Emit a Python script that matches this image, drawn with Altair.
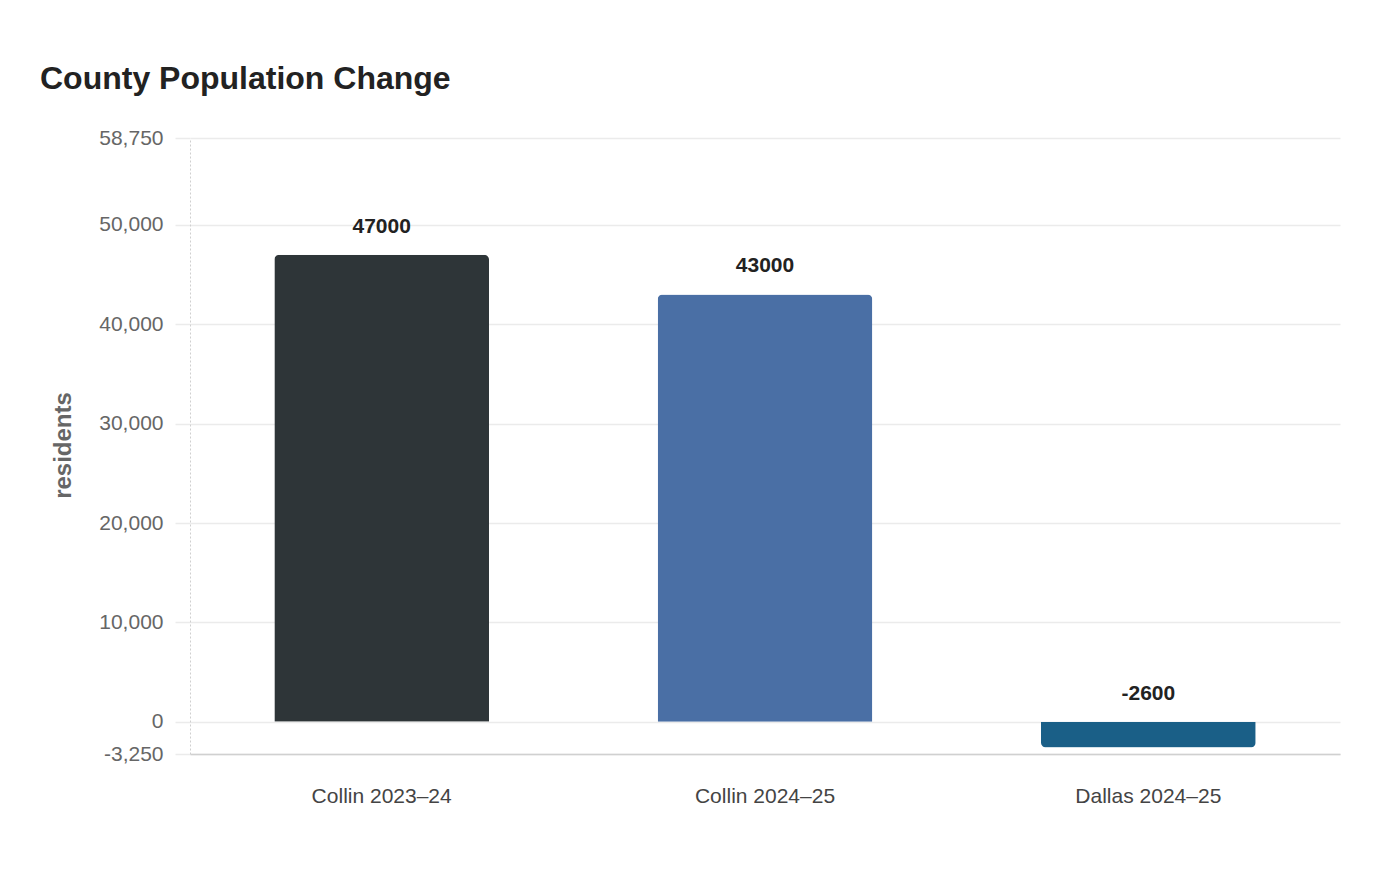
import pandas as pd
import altair as alt

# Population change per county/period
periods = ["Collin 2023–24", "Collin 2024–25", "Dallas 2024–25"]
change = [47000, 43000, -2600]
bar_colors = ["#2e3538", "#4a6fa5", "#1a5f87"]
y_ticks = [-3250, 0, 10000, 20000, 30000, 40000, 50000, 58750]

df = pd.DataFrame({"period": periods, "change": change})

base = alt.Chart(df).encode(
    x=alt.X("period:N", sort=periods,
            scale=alt.Scale(paddingInner=0.44, paddingOuter=0.22),
            axis=alt.Axis(title=None, labelAngle=0, labelFontSize=21, labelColor="#444",
                          labelPadding=31, ticks=False, domainColor="#d0d0d0",
                          domainWidth=1.5, grid=False))
)

y_enc = alt.Y("change:Q",
              scale=alt.Scale(domain=[-3250, 58750], nice=False, zero=False),
              axis=alt.Axis(values=y_ticks, format=",d", title="residents",
                            labelExpr="replace(datum.label, '\u2212', '-')",
                            titleFontSize=24, titleColor="#666", titleFontWeight="bold",
                            titleX=-127, titleY=307, titleAngle=-90,
                            titleAlign="center", titleBaseline="middle",
                            labelFontSize=21, labelColor="#666", labelPadding=12,
                            tickSize=15, tickColor="#ebebeb", tickWidth=1.5,
                            gridColor="#ebebeb", gridWidth=1.5,
                            domainColor="#cfcfcf", domainDash=[2, 2], domainWidth=1))
color_enc = alt.Color("period:N", scale=alt.Scale(domain=periods, range=bar_colors), legend=None)

# positive bars round at the top, negative ones at the bottom
pos_bars = base.transform_filter("datum.change >= 0").mark_bar(
    cornerRadiusTopLeft=5, cornerRadiusTopRight=5
).encode(y=y_enc, color=color_enc)

neg_bars = base.transform_filter("datum.change < 0").mark_bar(
    cornerRadiusBottomLeft=5, cornerRadiusBottomRight=5
).encode(y=y_enc, color=color_enc)

labels = base.transform_calculate(
    label_y="max(datum.change, 0)",
    label="'' + datum.change"
).mark_text(fontSize=21, fontWeight="bold", color="#222", baseline="bottom", dy=-18).encode(
    y=alt.Y("label_y:Q"),
    text="label:N",
)

chart = alt.layer(pos_bars, neg_bars, labels).properties(
    width=1150,
    height=616,
    autosize=alt.AutoSizeParams(type="none"),
    padding={"left": 182, "top": 130, "right": 50, "bottom": 100},
    title=alt.TitleParams("County Population Change", anchor="start", fontSize=32,
                          fontWeight="bold", color="#222", dx=-11, offset=31),
).configure(
    font="Liberation Sans"
).configure_view(
    stroke=None
)

chart.save("out.html", embed_options={"renderer": "svg", "actions": False})
